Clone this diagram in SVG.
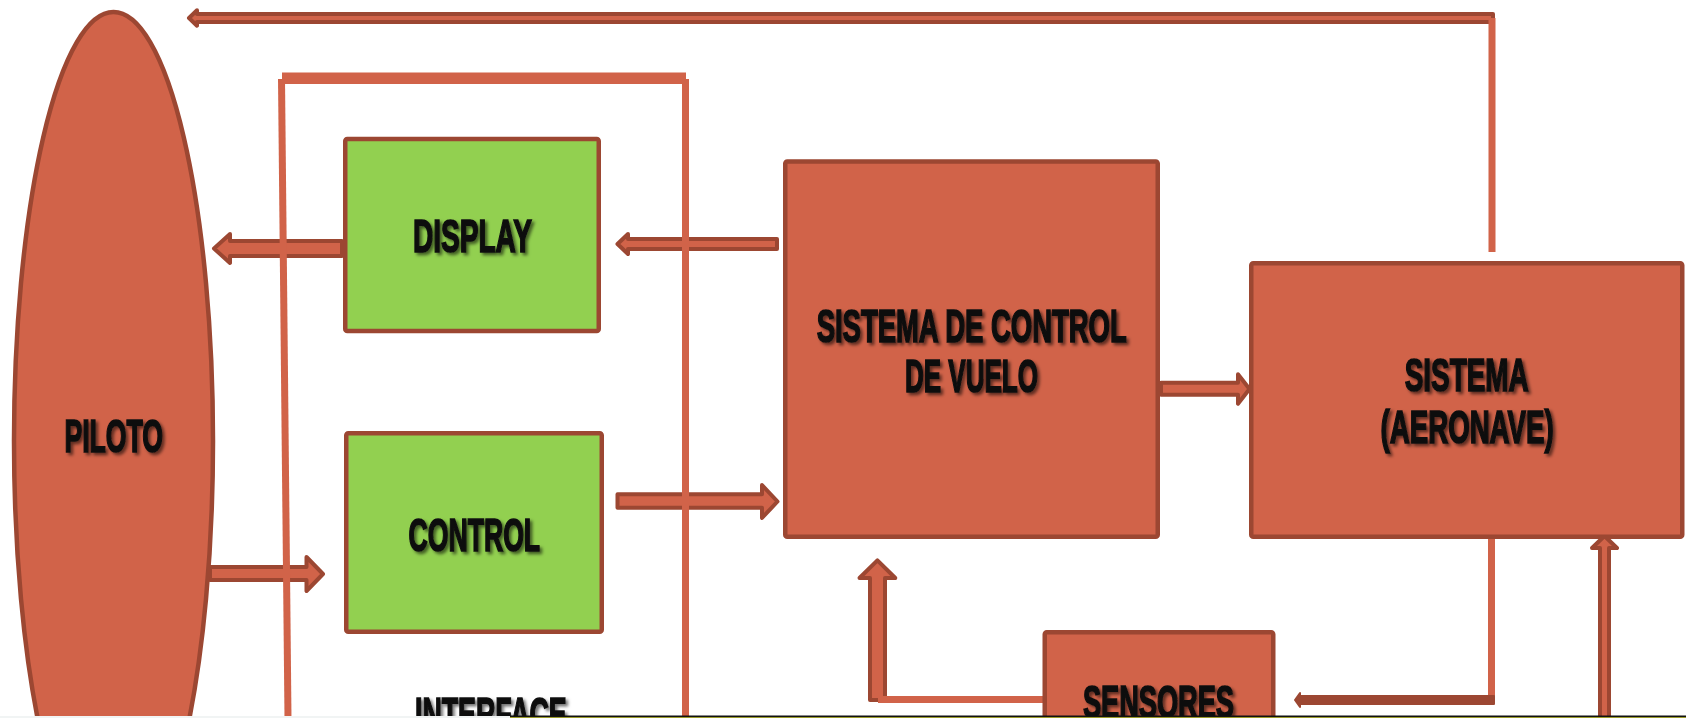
<svg xmlns="http://www.w3.org/2000/svg" width="1686" height="718" viewBox="0 0 1686 718">
<defs>
<filter id="sh" x="-10%" y="-20%" width="130%" height="150%">
<feDropShadow dx="2.5" dy="2.5" stdDeviation="1.4" flood-color="#000" flood-opacity="0.55"/>
</filter>
<style>
.red{fill:#D16349;stroke:#9C4732;stroke-width:4.5;stroke-linejoin:round}
.grn{fill:#92D050;stroke:#9C4732;stroke-width:4.5;stroke-linejoin:round}
.arr{fill:#D16349;stroke:#9C4732;stroke-width:4;stroke-linejoin:round}
.dark{fill:#9C4732;stroke:#9C4732;stroke-width:2;stroke-linejoin:round}
.ln{stroke:#D16349;stroke-width:7;fill:none}
.lbl{font-family:"Liberation Sans",Arial,sans-serif;font-weight:bold;font-size:46px;fill:#111;stroke:#111;stroke-width:1.7;filter:url(#sh)}
</style>
</defs>
<rect width="1686" height="718" fill="#fff"/>

<g id="connectors">
<polygon class="arr" points="1493,14 197,14 197,10.3 189,18 197,25.7 197,22 1493,22"/>
<polygon class="arr" points="342,241 230,241 230,234 214,248.5 230,263 230,256 342,256"/>
<polygon class="arr" points="777,239 628,239 628,234 617.5,244 628,254 628,249 777,249"/>
<polygon class="arr" points="210,567 306.5,567 306.5,557 323,574 306.5,591 306.5,580 210,580"/>
<polygon class="arr" points="617.5,494.3 762,494.3 762,485 777.5,501.5 762,518 762,507.7 617.5,507.7"/>
<polygon class="arr" points="1161,382.7 1238,382.7 1238,374.3 1249.5,389 1238,403.7 1238,394.7 1161,394.7"/>
<polygon class="arr" points="870,700 870,578 859.5,578 877.4,560.3 895.3,578 885,578 885,700"/>
<line class="ln" x1="878" y1="699.5" x2="1045" y2="699.5"/>
<line class="ln" x1="1491.5" y1="537" x2="1491.5" y2="700"/>
<polygon class="dark" points="1494,696 1300,696 1300,693 1295,700 1300,707 1300,704 1494,704"/>
<polygon class="arr" points="1600,722 1600,548 1592,548 1604.5,536 1617,548 1609,548 1609,722"/>
<line class="ln" x1="1492" y1="18" x2="1492" y2="252"/>
</g>

<g id="interface">
<line class="ln" x1="281.5" y1="79" x2="288" y2="718"/>
<line class="ln" x1="685.5" y1="79" x2="685.5" y2="718"/>
<rect x="282" y="72.5" width="404" height="11.5" fill="#D16349"/>
<text class="lbl" x="415" y="729.7" textLength="151.7" lengthAdjust="spacingAndGlyphs">INTERFACE</text>
</g>

<g id="piloto">
<ellipse class="red" cx="113.5" cy="441" rx="99.5" ry="429"/>
<text class="lbl" x="64.5" y="452" textLength="98.5" lengthAdjust="spacingAndGlyphs">PILOTO</text>
</g>

<g id="display">
<rect class="grn" x="345.25" y="139" width="253.5" height="192" rx="2"/>
<text class="lbl" x="413" y="252.3" textLength="119" lengthAdjust="spacingAndGlyphs">DISPLAY</text>
</g>

<g id="control">
<rect class="grn" x="346.25" y="433.25" width="255.5" height="198.5" rx="2"/>
<text class="lbl" x="408.6" y="550.7" textLength="131.5" lengthAdjust="spacingAndGlyphs">CONTROL</text>
</g>

<g id="scv">
<rect class="red" x="785.25" y="161.5" width="372.5" height="375.25" rx="2"/>
<text class="lbl" x="816.7" y="341.5" textLength="310" lengthAdjust="spacingAndGlyphs">SISTEMA DE CONTROL</text>
<text class="lbl" x="905" y="391.7" textLength="133" lengthAdjust="spacingAndGlyphs">DE VUELO</text>
</g>

<g id="sistema">
<rect class="red" x="1251.25" y="263.25" width="431" height="273.5" rx="2"/>
<text class="lbl" x="1404.8" y="391.3" textLength="123.7" lengthAdjust="spacingAndGlyphs">SISTEMA</text>
<text class="lbl" x="1380.6" y="443" textLength="173" lengthAdjust="spacingAndGlyphs">(AERONAVE)</text>
</g>

<g id="sensores">
<rect class="red" x="1044.75" y="632.25" width="228.5" height="100" rx="2"/>
<text class="lbl" x="1083" y="718" textLength="151" lengthAdjust="spacingAndGlyphs">SENSORES</text>
</g>

<g id="edge">
<rect x="0" y="716" width="510" height="2" fill="#f1f4f4"/>
<rect x="510" y="715.5" width="1176" height="1.6" fill="#111"/>
<rect x="510" y="717" width="1176" height="1" fill="#9a9a2a"/>
</g>
</svg>
